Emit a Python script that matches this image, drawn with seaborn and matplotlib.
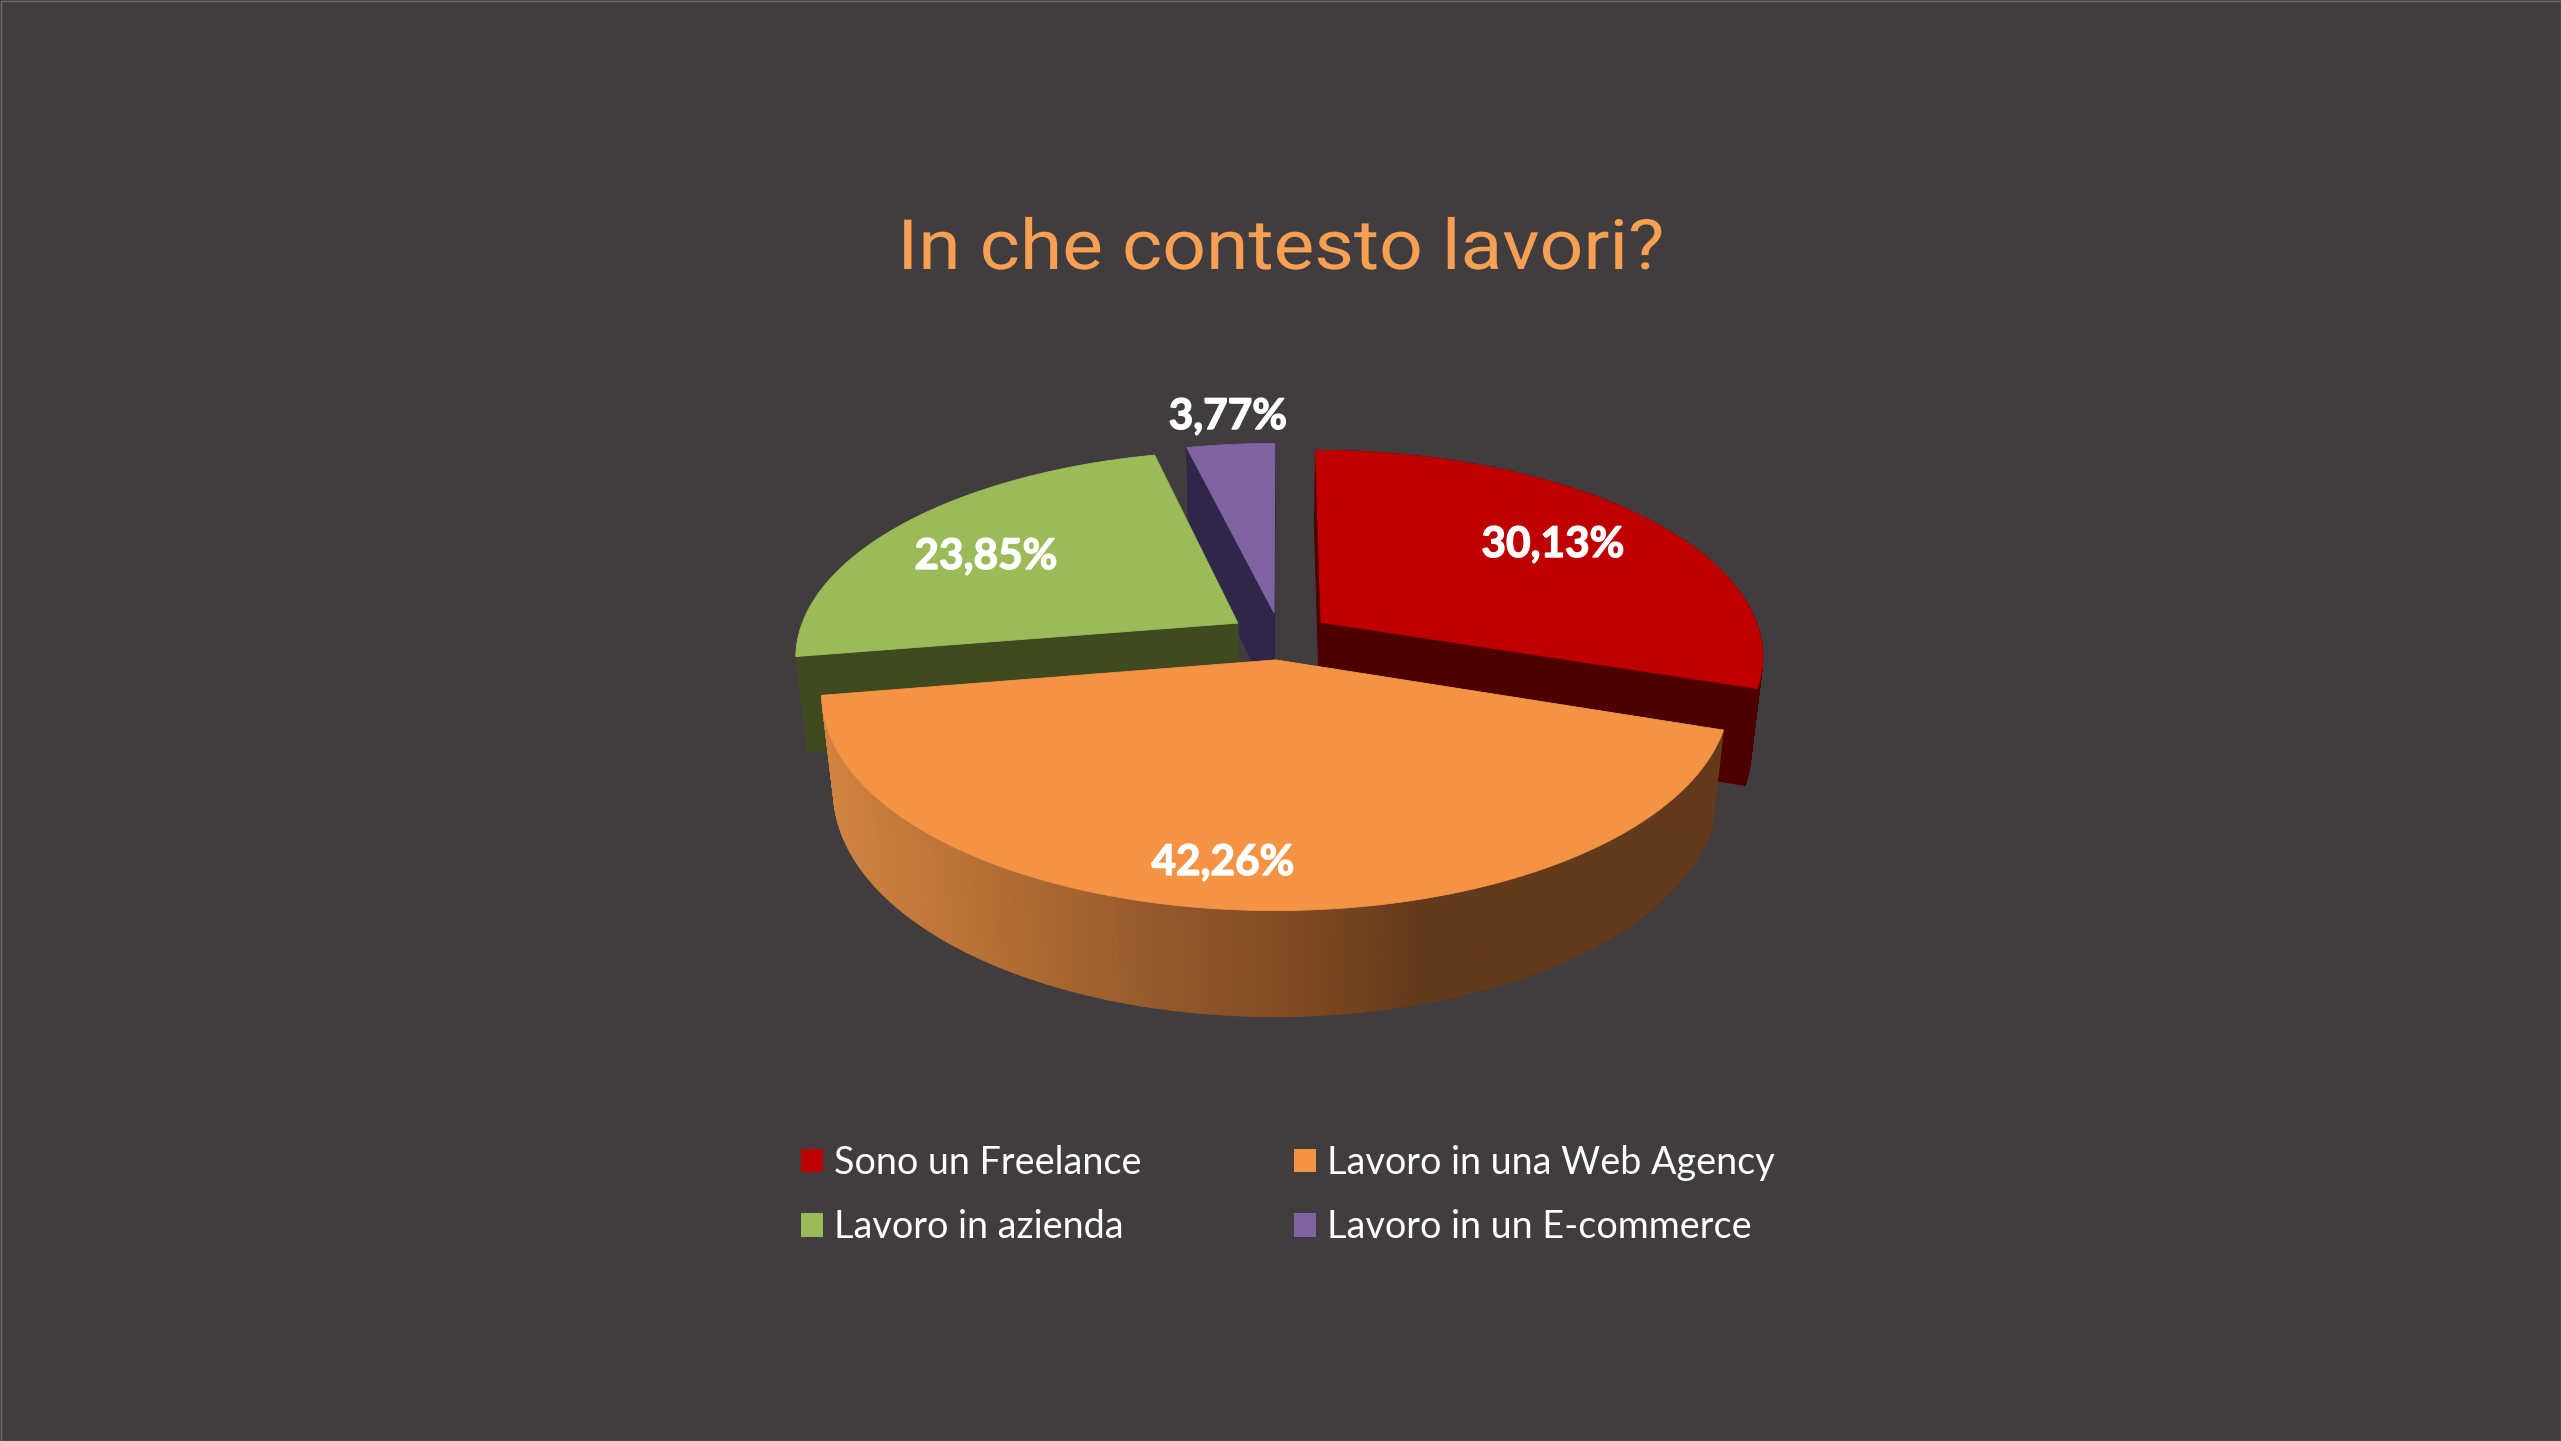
import matplotlib
matplotlib.use("Agg")
import matplotlib.patheffects as pe
import matplotlib.pyplot as plt
import numpy as np
import seaborn as sns
from matplotlib.patches import Patch, Polygon, Rectangle
from matplotlib.transforms import Affine2D

labels = ["Sono un Freelance", "Lavoro in una Web Agency", "Lavoro in azienda", "Lavoro in un E-commerce"]
values = [30.13, 42.26, 23.85, 3.77]
value_labels = ["30,13%", "42,26%", "23,85%", "3,77%"]
top_colors = ["#BE0000", "#F59345", "#9BBB59", "#8064A2"]
wall_colors = ["#4D0000", "#63391A", "#3F4A20", "#30264A"]
title = "In che contesto lavori?"

BG = "#413D3E"

# perspective of the pie, in pixels of the 2561x1441 picture
CX, CY = 1280, 636
A, B = 440, 203
K, M = 0.157, 0.025
DEPTH = 97
EXPLODE = 0.116

sns.set_theme(style="white")
plt.rcParams["font.family"] = ["Lato", "DejaVu Sans"]


class StretchX(pe.AbstractPathEffect):
    # the title is tracked out in the original, matplotlib has no letter spacing
    def __init__(self, factor, center):
        super().__init__()
        self.factor = factor
        self.center = center

    def draw_path(self, renderer, gc, tpath, affine, rgbFace=None):
        stretch = Affine2D().translate(-self.center, 0).scale(self.factor, 1).translate(self.center, 0)
        renderer.draw_path(gc, tpath, affine + stretch, rgbFace)


def project(x, y, bottom=False):
    x, y = np.asarray(x, float), np.asarray(y, float)
    w = 1 + K * y
    if bottom:
        return CX + A * x / (w + M), CY + (-B * y + DEPTH) / (w + M)
    return CX + A * x / w, CY - B * y / w


def poly(ax, xs, ys, color, z):
    ax.add_patch(Polygon(np.column_stack([xs, ys]), closed=True, fc=color, ec=color, lw=0.6, zorder=z))


fig, ax = plt.subplots()
fig.set_size_inches(25.61, 14.41)
fig.set_dpi(100)
fig.patch.set_facecolor(BG)
ax.set_position([0, 0, 1, 1])
ax.set_xlim(0, 2561)
ax.set_ylim(1441, 0)
ax.axis("off")

ends = np.cumsum(values) / sum(values) * 360
starts = np.r_[0, ends[:-1]]
# painter's order: back slices first
draw_order = [3, 2, 0, 1]
orange_side = sns.blend_palette(["#D08341", "#B56E33", "#96592C", "#7A4720", "#633A1B"], 150)

for z, i in enumerate(draw_order):
    t = np.radians(np.linspace(starts[i], ends[i], 240))
    mid = np.radians((starts[i] + ends[i]) / 2)
    ox, oy = EXPLODE * np.sin(mid), EXPLODE * np.cos(mid)
    rx, ry = ox + np.sin(t), oy + np.cos(t)
    base = z * 10 + 2
    # the two cut faces
    for e in (0, -1):
        px, py = project([ox, rx[e]], [oy, ry[e]])
        qx, qy = project([ox, rx[e]], [oy, ry[e]], bottom=True)
        poly(ax, [px[0], px[1], qx[1], qx[0]], [py[0], py[1], qy[1], qy[0]], wall_colors[i], base)
    # rim
    px, py = project(rx, ry)
    qx, qy = project(rx, ry, bottom=True)
    for j in range(len(t) - 1):
        if i == 1:
            f = np.interp(px[j], [833, 992, 1158, 1324, 1423], [0, 0.25, 0.5, 0.75, 1])
            c = orange_side[int(f * 149)]
        else:
            c = wall_colors[i]
        poly(ax, [px[j], px[j + 1], qx[j + 1], qx[j]], [py[j], py[j + 1], qy[j + 1], qy[j]], c, base + 1)
    # top
    ax_, ay_ = project(np.r_[ox, rx], np.r_[oy, ry])
    poly(ax, ax_, ay_, top_colors[i], base + 2)

label_pos = [(1553, 545), (1223, 863), (986, 557), (1228, 417)]
for (x, y), s in zip(label_pos, value_labels):
    ax.text(x, y, s, color="white", fontsize=30.5, fontweight="bold", ha="center", va="center", zorder=100,
            path_effects=[pe.withStroke(linewidth=1, foreground="white")])

ax.text(1281, 269, title, color="#F7A054", fontsize=50, family="Roboto",
        ha="center", va="baseline", zorder=100,
        path_effects=[StretchX(1.106, 1281)])

handles = [Patch(fc=c, ec="none") for c in top_colors]
order = [0, 2, 1, 3]
ax.legend(
    [handles[i] for i in order],
    [labels[i] for i in order],
    ncols=2,
    frameon=False,
    loc="center left",
    bbox_to_anchor=(801, 1195),
    bbox_transform=ax.transData,
    fontsize=27.2,
    labelcolor="white",
    borderpad=0,
    borderaxespad=0,
    handlelength=0.58,
    handleheight=0.58,
    handletextpad=0.29,
    columnspacing=4.05,
    labelspacing=0.76,
)

# thin light edge of the slide
ax.add_patch(Rectangle((0.5, 0.5), 2560, 1440, fc="none", ec="#6A6768", lw=1, zorder=200))

fig.savefig("out.png", dpi=100, facecolor=BG)
